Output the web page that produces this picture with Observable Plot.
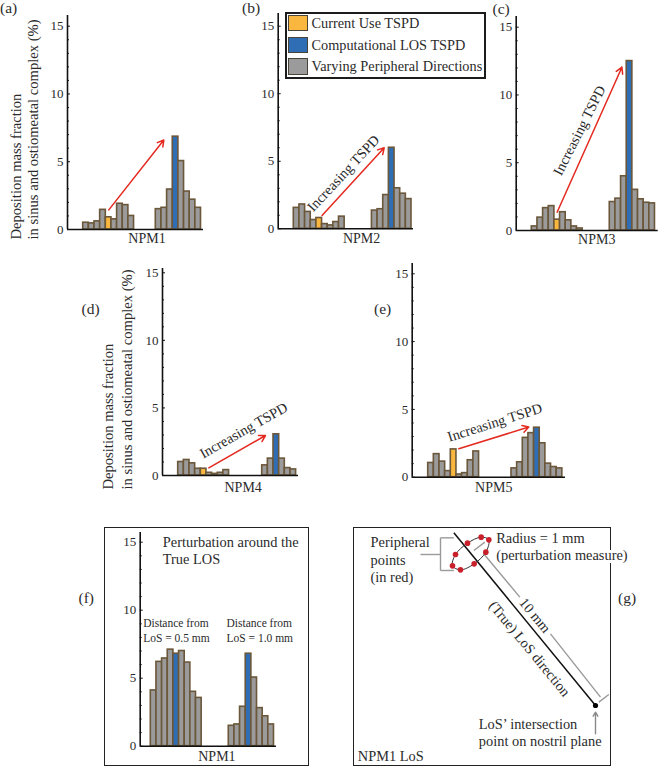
<!DOCTYPE html>
<html>
<head>
<meta charset="utf-8">
<script src="https://cdn.jsdelivr.net/npm/d3@7"></script>
<script src="https://cdn.jsdelivr.net/npm/@observablehq/plot@0.6"></script>
<style>
  html, body { margin: 0; padding: 0; background: #fff; }
  #page { position: relative; width: 658px; height: 766px; overflow: hidden; font-family: "Liberation Serif", serif; color: #2b2b2b; }
  #page svg { position: absolute; background: transparent; overflow: visible; }
  .tag { position: absolute; font-size: 15.5px; line-height: 16px; }
  .box { position: absolute; box-sizing: border-box; border: 1.5px solid #222; background: #fff; }
  .legend-row { position: absolute; left: 2px; font-size: 14.3px; white-space: nowrap; }
  .swatch { position: absolute; left: 1.5px; width: 20px; height: 16.5px; box-sizing: border-box; border: 1.5px solid #4a4338; }
</style>
</head>
<body>
<div id="page"></div>
<script>
// ---- values (deposition mass fraction, %) ----
const npm1Left  = [0.5, 0.45, 0.6, 1.45, 0.9, 0.75, 1.9, 1.8, 1.0];
const npm1Right = [1.5, 1.6, 2.95, 6.85, 5.05, 2.8, 2.2, 1.6];
const npm2Left  = [1.55, 1.8, 1.25, 0.65, 0.8, 0.35, 0.25, 0.5, 0.9];
const npm2Right = [1.35, 1.45, 2.5, 6.0, 3.0, 2.6, 2.2];
const npm3Left  = [0.3, 0.95, 1.65, 1.8, 0.8, 1.35, 0.75, 0.3, 0.15];
const npm3Right = [2.1, 2.35, 4.0, 12.5, 3.0, 2.3, 2.05, 2.0];
const npm4Left  = [1.0, 1.15, 0.9, 0.5, 0.5, 0.2, 0.12, 0.2, 0.4];
const npm4Right = [0.75, 1.25, 3.05, 1.25, 0.55, 0.45];
const npm5Left  = [1.05, 1.7, 1.15, 0.45, 2.05, 0.2, 0.3, 1.25, 1.9];
const npm5Right = [0.65, 1.1, 2.9, 3.25, 3.65, 2.5, 1.0, 0.75, 0.65];
const perturbLeft  = [4.1, 6.2, 6.45, 7.1, 6.8, 7.0, 6.15, 4.0, 3.55];
const perturbRight = [1.5, 1.6, 2.9, 6.8, 5.05, 2.8, 2.2, 1.6];

const kinds = ["Current Use TSPD", "Computational LOS TSPD", "Varying Peripheral Directions"];
const kindColors = ["#f9b73f", "#2f6db5", "#9b9b9b"];
const majorTicks = [0, 5, 10, 15];
const minorTicks = [1, 2, 3, 4, 6, 7, 8, 9, 11, 12, 13, 14];
const yTitleLines = ["Deposition mass fraction", "in sinus and ostiomeatal complex (%)"];
const arrowLabel = "Increasing TSPD";
const barStroke = "#6b573a";
const slotPx = 5.65;

const page = document.getElementById("page");

function addTag(text, left, top) {
  const el = document.createElement("div");
  el.className = "tag"; el.textContent = text;
  el.style.left = left + "px"; el.style.top = top + "px";
  page.appendChild(el);
}
function addBox(left, top, width, height) {
  const el = document.createElement("div");
  el.className = "box";
  Object.assign(el.style, {left: left + "px", top: top + "px", width: width + "px", height: height + "px"});
  page.appendChild(el);
  return el;
}

function barsFrom(left, right, rightStart, cur, los) {
  const rows = [];
  left.forEach((v, i) => rows.push({x1: i, x2: i + 1, v, kind: i === cur ? kinds[0] : i === los[0] ? kinds[1] : kinds[2]}));
  right.forEach((v, i) => rows.push({x1: rightStart + i, x2: rightStart + i + 1, v, kind: i === los[1] ? kinds[1] : kinds[2]}));
  return rows;
}

function panel(p) {
  const xAt = px => (px - p.barX) / slotPx;
  const unit = (p.y0 - p.y15) / 15;
  const yTop = (p.y0 - p.axisTop) / unit;
  const xMin = xAt(p.axisX), xMax = xAt(p.endX);
  const marks = [
    Plot.rectY(p.bars, {x1: "x1", x2: "x2", y1: 0, y2: "v", fill: "kind", stroke: barStroke, strokeWidth: 1.6}),
    Plot.ruleY([0], {x1: xMin, x2: xMax, stroke: "#111", strokeWidth: 1.6}),
    Plot.ruleX([xMin], {y1: 0, y2: yTop, stroke: "#111", strokeWidth: 1.6}),
    Plot.ruleY(majorTicks, {x1: xMin, x2: xAt(p.axisX + 3), stroke: "#111", strokeWidth: 1}),
    Plot.ruleY(minorTicks, {x1: xMin, x2: xAt(p.axisX + 2), stroke: "#111", strokeWidth: 1}),
    Plot.axisY({ticks: majorTicks, tickSize: 0, tickPadding: 4, fontSize: 13, label: null, color: "#2b2b2b"}),
    Plot.text([p.name], {x: p.nameX, y: 0, dy: p.nameDy || 10, fontSize: 14, fill: "#2b2b2b"})
  ];
  if (p.arrow) {
    marks.push(Plot.arrow([p.arrow], {x1: "x1", y1: "y1", x2: "x2", y2: "y2", stroke: "#e4291f", strokeWidth: 1.5, headLength: 7}));
  }
  if (p.arrowText) {
    marks.push(Plot.text([arrowLabel], {x: p.arrowText.x, y: p.arrowText.y, rotate: p.arrowText.rotate, fontSize: 14.4, fill: "#2b2b2b"}));
  }
  if (p.yTitle) {
    yTitleLines.forEach((line, i) => {
      marks.push(Plot.text([line], {frameAnchor: "bottom-left", dx: p.yTitle.x[i] - p.axisX, dy: p.yTitle.bottom - p.y0,
        rotate: -90, textAnchor: "start", lineAnchor: "middle", fontSize: 14.6, fill: "#2b2b2b"}));
    });
  }
  (p.notes || []).forEach(n => {
    marks.push(Plot.text([n.text], {x: n.x, y: n.y, textAnchor: "start", lineAnchor: "bottom", fontSize: n.size, fill: "#2b2b2b"}));
  });
  const svg = Plot.plot({
    width: p.right - p.left, height: p.bottom - p.top,
    marginLeft: p.axisX - p.left, marginRight: p.right - p.endX,
    marginTop: p.axisTop - p.top, marginBottom: p.bottom - p.y0,
    x: {domain: [xMin, xMax], axis: null},
    y: {domain: [0, yTop], axis: null},
    color: {domain: kinds, range: kindColors},
    style: {fontFamily: "Liberation Serif", background: "transparent", overflow: "visible"},
    marks
  });
  svg.style.left = p.left + "px"; svg.style.top = p.top + "px";
  page.appendChild(svg);
}

panel({name: "NPM1", bars: barsFrom(npm1Left, npm1Right, 12.85, 4, [-1, 3]), nameX: 11.3, nameDy: 9.3,
  left: 0, right: 215, top: 0, bottom: 250, axisX: 67, barX: 82.7, endX: 203, y0: 229, y15: 25.7, axisTop: 15,
  arrow: {x1: 4.53, y1: 1.45, x2: 14.27, y2: 6.6}, yTitle: {x: [16, 33], bottom: 239}});
panel({name: "NPM2", bars: barsFrom(npm2Left, npm2Right, 13.83, 4, [-1, 3]), nameX: 12,
  left: 240, right: 420, top: 0, bottom: 250, axisX: 277.7, barX: 293.3, endX: 413, y0: 228.3, y15: 25.7, axisTop: 13,
  arrow: {x1: 5, y1: 0.98, x2: 16, y2: 6}, arrowText: {x: 8.8, y: 4.1, rotate: -47}});
panel({name: "NPM3", bars: barsFrom(npm3Left, npm3Right, 13.8, 4, [-1, 3]), nameX: 11.5, nameDy: 9.3,
  left: 490, right: 658, top: 0, bottom: 250, axisX: 515.7, barX: 531.3, endX: 657.7, y0: 230, y15: 26.7, axisTop: 16,
  arrow: {x1: 4.48, y1: 1.35, x2: 15.95, y2: 12.05}, arrowText: {x: 8.44, y: 7.38, rotate: -63}});
panel({name: "NPM4", bars: barsFrom(npm4Left, npm4Right, 14.87, 4, [-1, 2]), nameX: 11.5, nameDy: 11.7,
  left: 100, right: 305, top: 260, bottom: 500, axisX: 162, barX: 177.7, endX: 298, y0: 475, y15: 272.3, axisTop: 268,
  arrow: {x1: 5.42, y1: 0.57, x2: 15.45, y2: 2.96}, arrowText: {x: 11.6, y: 3.33, rotate: -29.5},
  yTitle: {x: [108, 126.7], bottom: 489}});
panel({name: "NPM5", bars: barsFrom(npm5Left, npm5Right, 14.74, 4, [-1, 4]), nameX: 11.6,
  left: 385, right: 575, top: 255, bottom: 500, axisX: 411.7, barX: 427.7, endX: 565, y0: 476.7, y15: 273.3, axisTop: 263,
  arrow: {x1: 5.42, y1: 2.1, x2: 17.8, y2: 3.7}, arrowText: {x: 11.8, y: 4.03, rotate: -17.6}});

addBox(104, 527, 205, 238.5);
panel({name: "NPM1", bars: barsFrom(perturbLeft, perturbRight, 13.8, -1, [4, 3]), nameX: 11.7,
  left: 105, right: 308, top: 528, bottom: 764, axisX: 139.7, barX: 150.3, endX: 276, y0: 745.7, y15: 541.7, axisTop: 532,
  notes: [
    {text: "Perturbation around the", x: 2.12, y: 14.63, size: 14.4},
    {text: "True LOS", x: 2.12, y: 13.43, size: 14.4},
    {text: "Distance from", x: -1.35, y: 8.73, size: 11.5},
    {text: "LoS = 0.5 mm", x: -1.35, y: 7.65, size: 11.5},
    {text: "Distance from", x: 13.4, y: 8.73, size: 11.5},
    {text: "LoS = 1.0 mm", x: 13.4, y: 7.65, size: 11.5}
  ]});

// ---- panel (g): schematic of the line of sight, in schematic units ----
addBox(352.5, 527, 258, 238.5);
const losLine = [{x1: 340, y1: 37, x2: 765, y2: 555}];
const redPoints = [[422, 50], [445, 58], [436, 95], [401, 130], [360, 148], [336, 136], [345, 102], [381, 68]];
const endPoint = [[765, 555]];
const greyLines = [
  {x1: 240, y1: 102, x2: 300, y2: 102}, {x1: 300, y1: 52, x2: 300, y2: 150},
  {x1: 300, y1: 52, x2: 340, y2: 52}, {x1: 300, y1: 150, x2: 340, y2: 150},
  {x1: 400, y1: 90, x2: 433, y2: 65},
  {x1: 429, y1: 99, x2: 538, y2: 230}, {x1: 630, y1: 340, x2: 780, y2: 530},
  {x1: 775, y1: 545, x2: 805, y2: 522}
];
const upArrow = [{x1: 765, y1: 640, x2: 765, y2: 575}];
const plainLabels = [
  {text: "Peripheral", x: 90, y: 67}, {text: "points", x: 90, y: 120}, {text: "(in red)", x: 90, y: 172},
  {text: "LoS\u2019 intersection", x: 415, y: 612}, {text: "point on nostril plane", x: 415, y: 664},
  {text: "NPM1 LoS", x: 52, y: 707}
];
const haloLabels = [
  {text: "Radius = 1 mm", x: 467, y: 53}, {text: "(perturbation measure)", x: 467, y: 105}
];
const alongLabels = [{text: "10 mm", x: 583, y: 285}, {text: "(True) LoS direction", x: 567, y: 385}];

const gPlot = Plot.plot({
  width: 318, height: 246, margin: 0,
  x: {domain: [0, 954], axis: null},
  y: {domain: [738, 0], axis: null},
  style: {fontFamily: "Liberation Serif", background: "transparent", overflow: "visible"},
  marks: [
    Plot.text(haloLabels, {x: "x", y: "y", text: "text", textAnchor: "start", fontSize: 14.4, fill: "#2b2b2b", stroke: "#fff", strokeWidth: 6}),
    Plot.link(greyLines, {x1: "x1", y1: "y1", x2: "x2", y2: "y2", stroke: "#9a9a9a", strokeWidth: 1.4}),
    Plot.link(losLine, {x1: "x1", y1: "y1", x2: "x2", y2: "y2", stroke: "#111", strokeWidth: 1.5}),
    Plot.line(redPoints, {x: d => d[0], y: d => d[1], curve: "catmull-rom-closed", stroke: "#333", strokeWidth: 1}),
    Plot.dot(redPoints, {x: d => d[0], y: d => d[1], r: 2.8, fill: "#c9202b"}),
    Plot.dot(endPoint, {x: d => d[0], y: d => d[1], r: 2.6, fill: "#000"}),
    Plot.arrow(upArrow, {x1: "x1", y1: "y1", x2: "x2", y2: "y2", stroke: "#8a8a8a", strokeWidth: 1.4, headLength: 5}),
    Plot.text(plainLabels, {x: "x", y: "y", text: "text", textAnchor: "start", fontSize: 14.4, fill: "#2b2b2b"}),
    Plot.text(alongLabels, {x: "x", y: "y", text: "text", rotate: 50.5, fontSize: 14.4, fill: "#2b2b2b"})
  ]
});
gPlot.style.left = "340px"; gPlot.style.top = "520px";
page.appendChild(gPlot);

// ---- legend, above panel (b) ----
const legend = addBox(284.5, 11.5, 201.5, 67);
legend.style.borderWidth = "2px";
legend.style.borderColor = "#1c1c1c";
const rowTops = [1, 23, 44.5];
kinds.forEach((k, i) => {
  const sw = document.createElement("div");
  sw.className = "swatch"; sw.style.top = rowTops[i] + "px"; sw.style.background = kindColors[i];
  legend.appendChild(sw);
  const row = document.createElement("div");
  row.className = "legend-row"; row.textContent = k;
  row.style.left = "25px"; row.style.top = (rowTops[i]) + "px"; row.style.lineHeight = "16.5px";
  legend.appendChild(row);
});

// ---- panel letters ----
addTag("(a)", 0, 0);
addTag("(b)", 242, 0);
addTag("(c)", 492.5, 1);
addTag("(d)", 81.5, 301);
addTag("(e)", 374, 301);
addTag("(f)", 78.5, 590);
addTag("(g)", 618, 590);
</script>
</body>
</html>
